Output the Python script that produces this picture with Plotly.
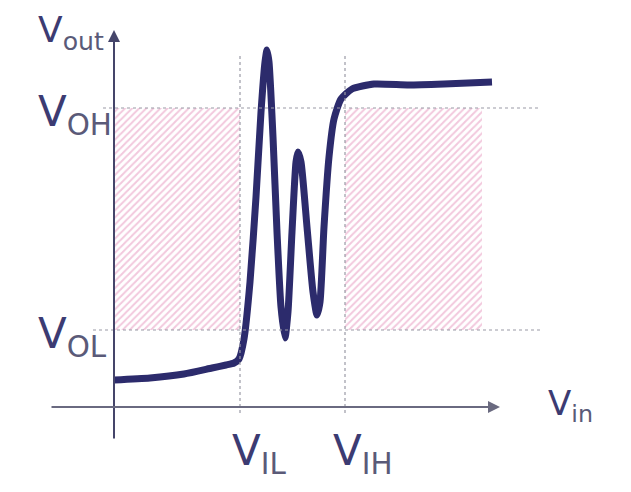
import plotly.graph_objects as go

# Characteristic levels (arbitrary units)
V_IL = 1.26
V_IH = 2.31
V_OL = 0.77
V_OH = 2.99
VIN_END = 3.68   # right end of the high-input region

# Transfer curve Vout(Vin)
vin = [0.00, 0.36, 0.70, 0.98, 1.12, 1.20, 1.25, 1.30, 1.36, 1.42, 1.47, 1.51, 1.53,
       1.55, 1.59, 1.63, 1.67, 1.71, 1.74, 1.78, 1.82, 1.84, 1.87, 1.93, 1.99, 2.03,
       2.06, 2.10, 2.15, 2.20, 2.27, 2.38, 2.60, 2.95, 3.30, 3.78]
vout = [0.27, 0.29, 0.33, 0.39, 0.42, 0.44, 0.48, 0.68, 1.25, 2.10, 2.95, 3.45, 3.57,
        3.45, 2.70, 1.75, 1.00, 0.69, 0.95, 1.75, 2.45, 2.55, 2.45, 1.80, 1.15, 0.92,
        1.05, 1.80, 2.50, 2.88, 3.08, 3.18, 3.23, 3.22, 3.23, 3.25]

NAVY = "#2c2b6c"
TXT = "#3c3b72"
SUB = "#5a5a78"
PINK = "#e592bb"
GRID = "#9a9aa6"
FONT = "DejaVu Sans"

fig = go.Figure()

# hatched regions
for x0, x1 in [(0, V_IL), (V_IH, VIN_END)]:
    fig.add_trace(go.Scatter(
        x=[x0, x1, x1, x0, x0], y=[V_OL, V_OL, V_OH, V_OH, V_OL],
        mode="lines", line=dict(width=0), fill="toself",
        fillcolor="rgba(255,255,255,0)",
        fillpattern=dict(shape="/", fgcolor=PINK, bgcolor="white", size=5, solidity=0.4),
        hoverinfo="skip", showlegend=False))

# dotted guide lines
fig.add_shape(type="line", x0=-0.11, x1=4.26, y0=V_OH, y1=V_OH,
              line=dict(color=GRID, width=1.2, dash="dot"))
fig.add_shape(type="line", x0=-0.21, x1=4.26, y0=V_OL, y1=V_OL,
              line=dict(color=GRID, width=1.2, dash="dot"))
for v in (V_IL, V_IH):
    fig.add_shape(type="line", x0=v, x1=v, y0=-0.06, y1=3.52,
                  line=dict(color=GRID, width=1.2, dash="dot"))

# curve
fig.add_trace(go.Scatter(x=vin, y=vout, mode="lines",
                         line=dict(color=NAVY, width=7, shape="spline", smoothing=0.6),
                         hoverinfo="skip", showlegend=False))

# axes with arrows
fig.add_annotation(x=0, y=3.77, ax=0, ay=-0.33, xref="x", yref="y", axref="x", ayref="y",
                   showarrow=True, arrowhead=2, arrowsize=1.2, arrowwidth=2,
                   arrowcolor="#45456a", text="")
fig.add_annotation(x=3.86, y=0, ax=-0.64, ay=0, xref="x", yref="y", axref="x", ayref="y",
                   showarrow=True, arrowhead=2, arrowsize=1.2, arrowwidth=2,
                   arrowcolor="#6a6a80", text="")

def lab(sub, x, y, size=42):
    fig.add_annotation(x=x, y=y, xref="x", yref="y", xanchor="left", yanchor="top",
                       showarrow=False,
                       text=f"V<sub><span style='color:{SUB}'>{sub}</span></sub>",
                       font=dict(family=FONT, size=size, color=TXT))

lab("out", -0.78, 4.00, size=36)
lab("OH", -0.78, 3.22)
lab("OL", -0.78, 1.00)
lab("IL", V_IL - 0.10, -0.17)
lab("IH", V_IH - 0.14, -0.17)
lab("in", 4.32, 0.26, size=34)

fig.update_layout(
    width=631, height=492, margin=dict(l=0, r=0, t=0, b=0),
    paper_bgcolor="white", plot_bgcolor="white",
    xaxis=dict(range=[-1.14, 5.17], visible=False, fixedrange=True),
    yaxis=dict(range=[-0.85, 4.07], visible=False, fixedrange=True),
    showlegend=False,
)
fig.write_html("out.html")
